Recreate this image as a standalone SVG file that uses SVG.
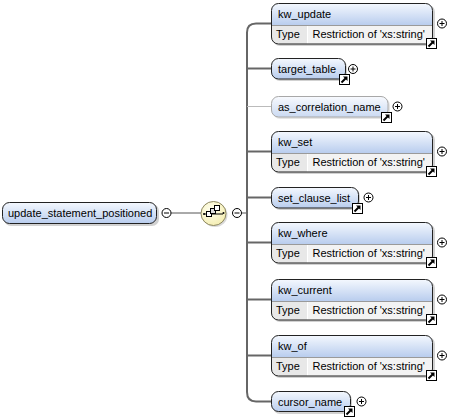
<svg xmlns="http://www.w3.org/2000/svg" width="465" height="418" viewBox="0 0 465 418">
<defs>
<linearGradient id="gb" x1="0" y1="0" x2="0" y2="1">
<stop offset="0" stop-color="#F4F8FE"/>
<stop offset="1" stop-color="#B9CDEE"/>
</linearGradient>
<linearGradient id="gl" x1="0" y1="0" x2="0" y2="1">
<stop offset="0" stop-color="#F8FAFE"/>
<stop offset="1" stop-color="#CBDAF2"/>
</linearGradient>
<radialGradient id="gy" cx="0.4" cy="0.35" r="0.7">
<stop offset="0" stop-color="#FFFFF0"/>
<stop offset="1" stop-color="#F4EDB0"/>
</radialGradient>
<g id="plus">
<circle cx="0" cy="0" r="4.5" fill="#fff" stroke="#000" stroke-width="1"/>
<path d="M-2.5 0H2.5M0 -2.5V2.5" stroke="#000" stroke-width="1"/>
</g>
<g id="minus">
<circle cx="0" cy="0" r="4.5" fill="#fff" stroke="#000" stroke-width="1"/>
<path d="M-2.5 0H2.5" stroke="#000" stroke-width="1"/>
</g>
<g id="link">
<rect x="0.5" y="0.5" width="10" height="10" fill="#fff" stroke="#000" stroke-width="1"/>
<path d="M2.5 8.5L7 4" stroke="#000" stroke-width="2"/>
<polygon points="4,2.5 8.5,2.5 8.5,7" fill="#000"/>
</g>
</defs>
<style>
text{font-family:"Liberation Sans",Arial,sans-serif;font-size:11px;fill:#000}
.shadow{fill:#000;fill-opacity:0.18}
.border{fill:none;stroke:#222;stroke-width:1}
.lborder{fill:none;stroke:#A8A8A8;stroke-width:1}
.hdr{fill:url(#gb)}
.body{fill:#F3F3F3}
.tcell{fill:#E8E8E8}
.div{stroke:#9A9A9A;stroke-width:1}
.cdiv{stroke:#FFFFFF;stroke-width:1}
.conn{fill:none;stroke:#666;stroke-width:2}
.lconn{fill:none;stroke:#BBBBBB;stroke-width:1}
.thin{fill:none;stroke:#555;stroke-width:1}
</style>

<g id="connectors">
<path class="thin" d="M171 213H201"/>
<path class="thin" d="M241.5 213H247"/>
<path class="conn" d="M271 23.5H256Q247 23.5 247 32.5V392Q247 401.5 256 401.5H271"/>
<path class="conn" d="M247 68.5H271"/>
<path class="lconn" d="M247 106.5H271"/>
<path class="conn" d="M247 151.5H271"/>
<path class="conn" d="M247 197.5H271"/>
<path class="conn" d="M247 242.5H271"/>
<path class="conn" d="M247 299.5H271"/>
<path class="conn" d="M247 355.5H271"/>
</g>

<g id="update_statement_positioned">
<rect class="shadow" x="4" y="204" width="155" height="22" rx="7"/>
<rect x="2.5" y="202.5" width="154" height="21" rx="7" fill="url(#gb)" stroke="#222"/>
<text x="8" y="217">update_statement_positioned</text>
<use href="#minus" x="166.5" y="213"/>
</g>

<g id="sequence">
<ellipse cx="215" cy="215" rx="12.5" ry="12" fill="#000" fill-opacity="0.15"/>
<ellipse cx="213.5" cy="213.5" rx="12.5" ry="12" fill="url(#gy)" stroke="#8C8760" stroke-width="1"/>
<path d="M204 214H223" stroke="#000" stroke-width="1"/>
<circle cx="204" cy="214" r="1" fill="#000"/>
<circle cx="223.5" cy="213" r="1" fill="#000"/>
<rect x="206.5" y="211.5" width="5" height="5" fill="#fff" stroke="#000"/>
<rect x="210.5" y="208.5" width="5" height="5" fill="#ddd" stroke="#000"/>
<rect x="214.5" y="205.5" width="5" height="5" fill="#fff" stroke="#000"/>
<use href="#minus" x="237" y="213"/>
</g>

<g id="kw_update">
<rect class="shadow" x="273" y="5" width="162" height="41" rx="7"/>
<path class="hdr" d="M271.5 25V10Q271.5 3.5 278 3.5H426Q432.5 3.5 432.5 10V25Z"/>
<path class="body" d="M271.5 25H432.5V37.5Q432.5 44 426 44H278Q271.5 44 271.5 37.5Z"/>
<path class="tcell" d="M271.5 25H307V44H278Q271.5 44 271.5 37.5Z"/>
<path class="div" d="M271.5 25.5H432.5"/>
<path class="cdiv" d="M307.5 26V43.5"/>
<rect class="border" x="271.5" y="3.5" width="161" height="40.5" rx="7"/>
<text x="278" y="18">kw_update</text>
<text x="276" y="37.5">Type</text>
<text x="312.5" y="37.5">Restriction of 'xs:string'</text>
<use href="#link" x="426" y="38"/>
<use href="#plus" x="442" y="23.5"/>
</g>

<g id="target_table">
<rect class="shadow" x="273" y="60" width="74" height="21" rx="7"/>
<rect x="271.5" y="58.5" width="74" height="20.5" rx="7" fill="url(#gb)" stroke="#222"/>
<text x="278" y="72.5">target_table</text>
<use href="#link" x="339" y="74"/>
<use href="#plus" x="353" y="69"/>
</g>

<g id="as_correlation_name">
<rect class="shadow" x="273" y="98" width="117" height="21" rx="7" style="fill-opacity:0.1"/>
<rect x="271.5" y="96.5" width="116.5" height="20.5" rx="7" fill="url(#gl)" stroke="#A8A8A8"/>
<text x="278" y="110.5">as_correlation_name</text>
<use href="#link" x="381" y="112"/>
<use href="#plus" x="397.5" y="106.5"/>
</g>

<g id="kw_set">
<rect class="shadow" x="273" y="133" width="162" height="41" rx="7"/>
<path class="hdr" d="M271.5 153V138Q271.5 131.5 278 131.5H426Q432.5 131.5 432.5 138V153Z"/>
<path class="body" d="M271.5 153H432.5V165.5Q432.5 172 426 172H278Q271.5 172 271.5 165.5Z"/>
<path class="tcell" d="M271.5 153H307V172H278Q271.5 172 271.5 165.5Z"/>
<path class="div" d="M271.5 153.5H432.5"/>
<path class="cdiv" d="M307.5 154V171.5"/>
<rect class="border" x="271.5" y="131.5" width="161" height="40.5" rx="7"/>
<text x="278" y="146">kw_set</text>
<text x="276" y="165.5">Type</text>
<text x="312.5" y="165.5">Restriction of 'xs:string'</text>
<use href="#link" x="426" y="166"/>
<use href="#plus" x="442" y="151.5"/>
</g>

<g id="set_clause_list">
<rect class="shadow" x="273" y="189" width="87" height="21" rx="7"/>
<rect x="271.5" y="187.5" width="87" height="20.5" rx="7" fill="url(#gb)" stroke="#222"/>
<text x="278" y="201.5">set_clause_list</text>
<use href="#link" x="352" y="203"/>
<use href="#plus" x="368.5" y="197.5"/>
</g>

<g id="kw_where">
<rect class="shadow" x="273" y="224" width="162" height="41" rx="7"/>
<path class="hdr" d="M271.5 244V229Q271.5 222.5 278 222.5H426Q432.5 222.5 432.5 229V244Z"/>
<path class="body" d="M271.5 244H432.5V256.5Q432.5 263 426 263H278Q271.5 263 271.5 256.5Z"/>
<path class="tcell" d="M271.5 244H307V263H278Q271.5 263 271.5 256.5Z"/>
<path class="div" d="M271.5 244.5H432.5"/>
<path class="cdiv" d="M307.5 245V262.5"/>
<rect class="border" x="271.5" y="222.5" width="161" height="40.5" rx="7"/>
<text x="278" y="237">kw_where</text>
<text x="276" y="256.5">Type</text>
<text x="312.5" y="256.5">Restriction of 'xs:string'</text>
<use href="#link" x="426" y="257"/>
<use href="#plus" x="442" y="242.5"/>
</g>

<g id="kw_current">
<rect class="shadow" x="273" y="281" width="162" height="41" rx="7"/>
<path class="hdr" d="M271.5 301V286Q271.5 279.5 278 279.5H426Q432.5 279.5 432.5 286V301Z"/>
<path class="body" d="M271.5 301H432.5V313.5Q432.5 320 426 320H278Q271.5 320 271.5 313.5Z"/>
<path class="tcell" d="M271.5 301H307V320H278Q271.5 320 271.5 313.5Z"/>
<path class="div" d="M271.5 301.5H432.5"/>
<path class="cdiv" d="M307.5 302V319.5"/>
<rect class="border" x="271.5" y="279.5" width="161" height="40.5" rx="7"/>
<text x="278" y="294">kw_current</text>
<text x="276" y="313.5">Type</text>
<text x="312.5" y="313.5">Restriction of 'xs:string'</text>
<use href="#link" x="426" y="314"/>
<use href="#plus" x="442" y="299.5"/>
</g>

<g id="kw_of">
<rect class="shadow" x="273" y="337" width="162" height="41" rx="7"/>
<path class="hdr" d="M271.5 357V342Q271.5 335.5 278 335.5H426Q432.5 335.5 432.5 342V357Z"/>
<path class="body" d="M271.5 357H432.5V369.5Q432.5 376 426 376H278Q271.5 376 271.5 369.5Z"/>
<path class="tcell" d="M271.5 357H307V376H278Q271.5 376 271.5 369.5Z"/>
<path class="div" d="M271.5 357.5H432.5"/>
<path class="cdiv" d="M307.5 358V375.5"/>
<rect class="border" x="271.5" y="335.5" width="161" height="40.5" rx="7"/>
<text x="278" y="350">kw_of</text>
<text x="276" y="369.5">Type</text>
<text x="312.5" y="369.5">Restriction of 'xs:string'</text>
<use href="#link" x="426" y="370"/>
<use href="#plus" x="442" y="355.5"/>
</g>

<g id="cursor_name">
<rect class="shadow" x="273" y="393" width="79" height="21" rx="7"/>
<rect x="271.5" y="391.5" width="79" height="20" rx="7" fill="url(#gb)" stroke="#222"/>
<text x="278" y="405.5">cursor_name</text>
<use href="#link" x="344" y="406"/>
<use href="#plus" x="361.5" y="401.5"/>
</g>
</svg>
